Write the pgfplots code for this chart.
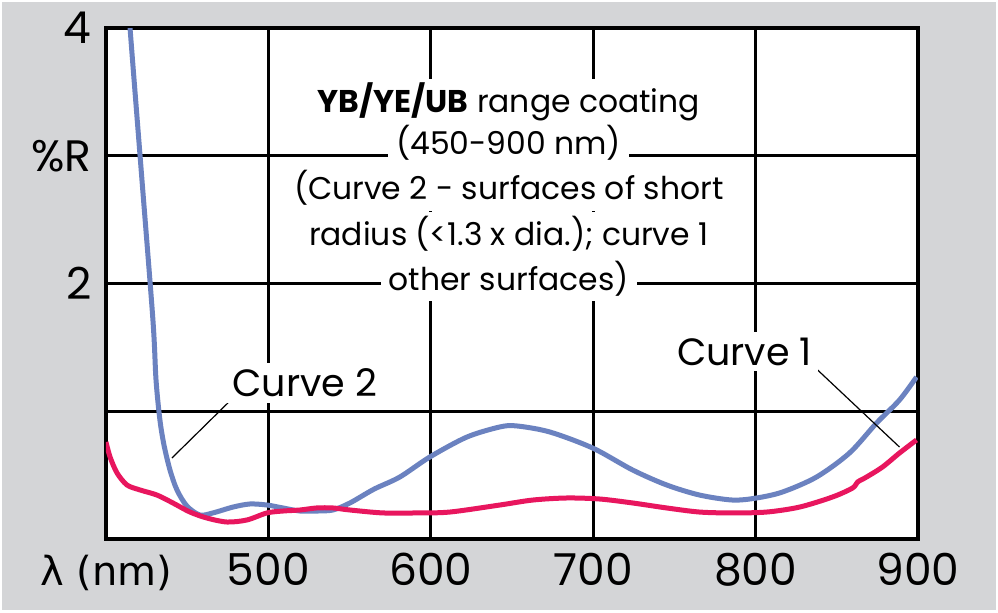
\documentclass[border=0pt]{standalone}
\usepackage{pgfplots}
\pgfplotsset{compat=1.18}
\usepackage{fontspec}
\setmainfont{Poppins}
\newfontfamily\greekfont{DejaVu Sans}
\definecolor{bgg}{RGB}{212,213,215}
\definecolor{cblue}{RGB}{107,130,192}
\definecolor{cred}{RGB}{232,22,94}
\begin{document}
\begin{tikzpicture}
\begin{scope}[x=0.5pt,y=0.5pt]
\fill[white] (-106,-73) rectangle (892,539);
\fill[bgg] (-104,-71) rectangle (890,537);
\end{scope}
\begin{axis}[
  scale only axis, width=406pt, height=255.5pt,
  xmin=400, xmax=900, ymin=0, ymax=4,
  axis background/.style={fill=white},
  xtick={400,500,600,700,800,900},
  xticklabels={{\fontsize{20}{20}\selectfont\greekfont λ (nm)},500,600,700,800,900},
  ytick={1,2,3,4}, yticklabels={,2,\%R,4},
  grid=major, major grid style={black, line width=1.5pt},
  axis line style={black, line width=2pt},
  major tick length=0pt,
  tick label style={font=\fontsize{22}{22}\selectfont, inner sep=0pt},
  xticklabel style={anchor=base, yshift=-23pt},
  yticklabel style={anchor=east, xshift=-7pt},
  clip=true,
]
\addplot[cblue, line width=2.5pt, smooth, tension=0.5] coordinates {
(413.8,4.22) (414.8,4.00) (421.9,2.85) (428.9,1.714) (430.8,1.245) (433.2,0.932)
(435.7,0.736) (439.4,0.540) (443.7,0.384) (449.8,0.258) (457.8,0.188) (465.8,0.204) (478.2,0.250)
(488.6,0.274) (499.1,0.266) (508.9,0.243) (519.4,0.219) (529.8,0.219) (539.7,0.227)
(550.2,0.282) (565,0.39) (580.9,0.485) (599.4,0.642) (622.2,0.798) (642.5,0.877)
(652.9,0.885) (673.2,0.838) (699.7,0.712) (724.3,0.540) (745.2,0.423) (765.5,0.344)
(785.8,0.305) (800.6,0.321) (816.6,0.368) (837.5,0.485) (857.8,0.673) (874.5,0.908)
(888.6,1.088) (899.1,1.268)
};
\addplot[cred, line width=2.5pt, smooth, tension=0.5] coordinates {
(400.0,0.759) (402.5,0.642) (406.8,0.517) (412.9,0.423) (420.9,0.384) (431.4,0.344)
(441.2,0.282) (451.7,0.211) (462.2,0.164) (474.5,0.133) (486.8,0.149) (499.1,0.204)
(508.9,0.219) (519.4,0.227) (529.8,0.243) (539.7,0.243) (550.2,0.227) (570.5,0.204)
(591.4,0.204) (611.7,0.211) (642.5,0.266) (662.8,0.305) (683.7,0.321) (704.0,0.313)
(724.3,0.282) (745.2,0.243) (765.5,0.211) (785.8,0.204) (806.8,0.211) (827.1,0.250)
(847.4,0.329) (859.7,0.399) (862.8,0.446) (868.3,0.485) (878.2,0.564) (888.6,0.673)
(899.1,0.775)
};
\draw[black, line width=0.6pt] (axis cs:478.2,1.104) -- (axis cs:440.6,0.634);
\draw[black, line width=0.6pt] (axis cs:838.2,1.323) -- (axis cs:888.6,0.720);
\node[fill=white, inner sep=3pt, anchor=base, font=\fontsize{19}{19}\selectfont] at (axis cs:522.5,1.112) {Curve 2};
\node[fill=white, inner sep=3pt, anchor=base, font=\fontsize{19}{19}\selectfont] at (axis cs:793.2,1.362) {Curve 1};
\tikzset{ann/.style={fill=white, inner xsep=4pt, inner ysep=0pt, text height=17pt, text depth=5.3pt, anchor=base, font=\fontsize{15.7}{18}\selectfont}}
\node[ann] at (axis cs:648,3.335) {\textbf{YB/YE/UB} range coating};
\node[ann] at (axis cs:648,3.006) {(450-900 nm)};
\node[ann] at (axis cs:648,2.654) {(Curve 2 - surfaces of short};
\node[ann] at (axis cs:648,2.294) {radius (<1.3 x dia.); curve 1};
\node[ann] at (axis cs:648,1.949) {other surfaces)};
\end{axis}
\pgfresetboundingbox
\path (-53pt,-36.5pt) rectangle (446pt,269.5pt);
\end{tikzpicture}
\end{document}
